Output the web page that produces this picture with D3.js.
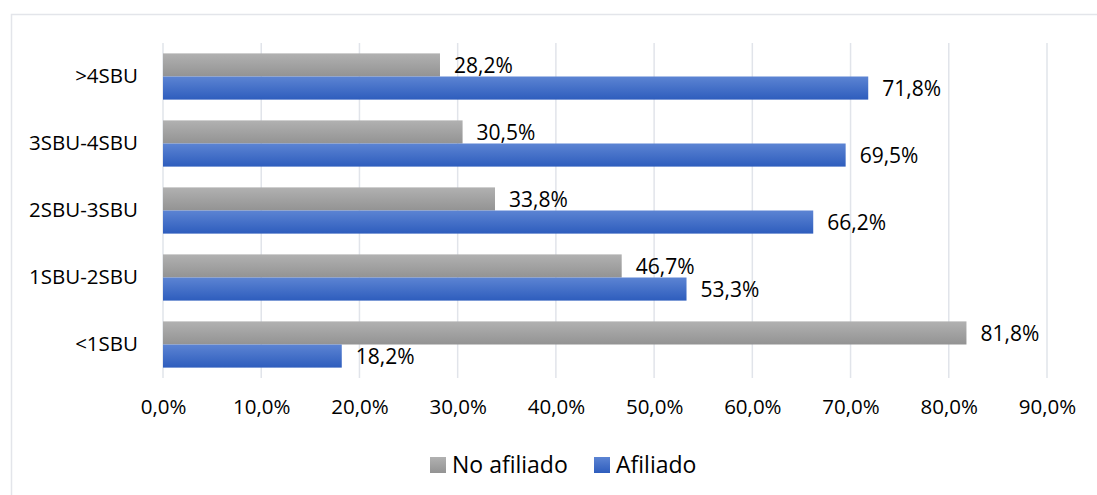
<!DOCTYPE html>
<meta charset="utf-8">
<style>
body { margin: 0; background: #fff; }
text { font-family: "Open Sans", "Noto Sans", sans-serif; fill: #000; }
.grid line { stroke: #e1e4ea; stroke-width: 1.5px; }
.axis text { font-size: 20.5px; }
.label { font-size: 21px; }
</style>
<svg width="1097" height="495"></svg>
<script src="https://d3js.org/d3.v7.min.js"></script>
<script>

var categories = [">4SBU", "3SBU-4SBU", "2SBU-3SBU", "1SBU-2SBU", "<1SBU"];
var noAfiliado = [28.2, 30.5, 33.8, 46.7, 81.8];
var afiliado = [71.8, 69.5, 66.2, 53.3, 18.2];
var seriesNames = ["No afiliado", "Afiliado"];
var xTicks = [0, 10, 20, 30, 40, 50, 60, 70, 80, 90];

var svg = d3.select("svg");

var margin = {top: 43, left: 163, right: 50, bottom: 117},
    width = 1047 - margin.left,
    height = 378 - margin.top;

// chart border
svg.append("rect")
    .attr("x", 11.5).attr("y", 14.5)
    .attr("width", 1100).attr("height", 500)
    .attr("fill", "none")
    .attr("stroke", "#e3e5ea")
    .attr("stroke-width", 1.5);

var defs = svg.append("defs");
function grad(id, c1, c2) {
  var lg = defs.append("linearGradient").attr("id", id)
      .attr("x1", 0).attr("y1", 0).attr("x2", 0).attr("y2", 1);
  lg.append("stop").attr("offset", "0%").attr("stop-color", c1);
  lg.append("stop").attr("offset", "100%").attr("stop-color", c2);
}
grad("gGray", "#b1b1b1", "#939393");
grad("gBlue", "#5c84d3", "#2e5dbd");
var fills = ["url(#gGray)", "url(#gBlue)"];

var g = svg.append("g")
    .attr("transform", "translate(" + margin.left + "," + margin.top + ")");

var x = d3.scaleLinear().domain([0, 90]).range([0, width]);

var y = d3.scaleBand()
    .domain(categories)
    .range([0, height])
    .paddingInner(0.31)
    .paddingOuter(0.155);

var ySub = d3.scaleBand()
    .domain(seriesNames)
    .range([0, y.bandwidth()]);

// gridlines
g.append("g")
    .attr("class", "grid")
    .selectAll("line")
    .data(xTicks)
  .enter().append("line")
    .attr("x1", function(d) { return x(d); })
    .attr("x2", function(d) { return x(d); })
    .attr("y1", 0)
    .attr("y2", height);

var fmt = function(d) { return d.toFixed(1).replace(".", ",") + "%"; };

// x axis
var xAxis = g.append("g")
    .attr("class", "axis")
    .attr("transform", "translate(0," + height + ")")
    .call(d3.axisBottom(x).tickValues(xTicks).tickFormat(fmt).tickSize(0).tickPadding(21));
xAxis.select(".domain").remove();
xAxis.selectAll("text").attr("font-family", null);

// y axis
var yAxis = g.append("g")
    .attr("class", "axis")
    .call(d3.axisLeft(y).tickSize(0).tickPadding(25));
yAxis.select(".domain").remove();
yAxis.selectAll("text").attr("font-family", null);

var rows = categories.map(function(c, i) {
  return [
    {cat: c, key: seriesNames[0], value: noAfiliado[i], idx: 0},
    {cat: c, key: seriesNames[1], value: afiliado[i], idx: 1}
  ];
});

var grp = g.selectAll(".grp")
    .data(rows)
  .enter().append("g")
    .attr("transform", function(d) { return "translate(0," + y(d[0].cat) + ")"; });

grp.selectAll("rect")
    .data(function(d) { return d; })
  .enter().append("rect")
    .attr("x", 0)
    .attr("y", function(d) { return ySub(d.key); })
    .attr("width", function(d) { return x(d.value); })
    .attr("height", ySub.bandwidth())
    .attr("fill", function(d) { return fills[d.idx]; });

grp.selectAll(".label")
    .data(function(d) { return d; })
  .enter().append("text")
    .attr("class", "label")
    .attr("x", function(d) { return x(d.value) + 14; })
    .attr("y", function(d) { return ySub(d.key) + ySub.bandwidth() / 2 + 1; })
    .attr("dy", ".35em")
    .text(function(d) { return fmt(d.value); });

// legend
var legend = svg.append("g").attr("transform", "translate(0,465)");
var legX = [430, 594];
seriesNames.forEach(function(s, i) {
  legend.append("rect")
      .attr("x", legX[i]).attr("y", -8)
      .attr("width", 16).attr("height", 16)
      .attr("fill", fills[i]);
  legend.append("text")
      .attr("x", legX[i] + 22).attr("y", 0)
      .attr("dy", ".35em")
      .style("font-size", "23px")
      .text(s);
});

</script>
